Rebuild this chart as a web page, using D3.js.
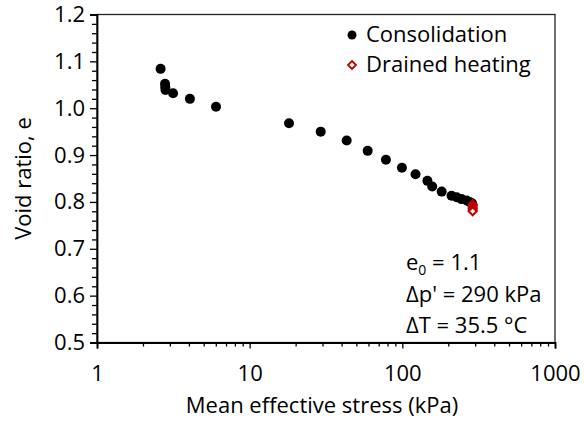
<!DOCTYPE html>
<html><head><meta charset="utf-8">
<script src="https://cdn.jsdelivr.net/npm/d3@7"></script>
<style>body{margin:0;background:#fff}svg{display:block}text{font-family:"Open Sans",Lato,sans-serif;fill:#000}</style>
</head><body><svg id="c" width="584" height="421"></svg>
<script>
const consP = [2.61,2.79,2.80,2.81,3.15,4.06,6.02,18.1,29.2,43.2,59.3,78.1,99.4,122,146,157,181,210,227,244,264,276,286];
const consE = [1.084,1.052,1.045,1.039,1.032,1.020,1.003,0.968,0.950,0.931,0.909,0.890,0.873,0.859,0.845,0.833,0.822,0.813,0.810,0.806,0.803,0.800,0.797];
const heatP = [289,289,289,289,289,289];
const heatE = [0.795,0.792,0.789,0.786,0.783,0.780];
const yTicks = [0.5,0.6,0.7,0.8,0.9,1.0,1.1,1.2];
const xTicks = [1,10,100,1000];
const legendLabels = ["Consolidation","Drained heating"];
const notes = ["= 1.1","Δp' = 290 kPa","ΔT = 35.5 °C"];

const svg = d3.select("#c");
const L=97,R=555,T=14.5,B=342.5;
const x = d3.scaleLog().domain([1,1000]).range([L,R]);
const y = d3.scaleLinear().domain([0.5,1.2]).range([B,T]);
const fs = 22;
const FF = "'Open Sans'";

// minor ticks
const yMinor = d3.range(0.5,1.2001,0.02).filter(v=>Math.abs(Math.round(v*10)-v*10)>1e-6);
svg.append("g").attr("transform",`translate(${L},0)`)
  .call(d3.axisLeft(y).tickValues(yMinor).tickSize(5).tickFormat(""))
  .call(g=>{g.select(".domain").remove();g.selectAll("line").attr("stroke","#000").attr("stroke-width",1.3);});
const xMinor=[];[1,10,100].forEach(d=>{for(let k=2;k<=9;k++)xMinor.push(d*k);});
svg.append("g").attr("transform",`translate(0,${B})`)
  .call(d3.axisBottom(x).tickValues(xMinor).tickSize(4).tickFormat(""))
  .call(g=>{g.select(".domain").remove();g.selectAll("line").attr("stroke","#000").attr("stroke-width",1.3);});

// frame top/right
svg.append("rect").attr("x",L).attr("y",T).attr("width",R-L).attr("height",B-T)
  .attr("fill","none").attr("stroke","#222").attr("stroke-width",1.3);

const ya = svg.append("g").attr("transform",`translate(${L},0)`)
  .call(d3.axisLeft(y).tickValues(yTicks).tickSize(7).tickPadding(5).tickFormat(d3.format(".1f")));
ya.select(".domain").attr("stroke","#000").attr("stroke-width",1.8);
ya.selectAll("line").attr("stroke","#000").attr("stroke-width",1.3);
ya.selectAll("text").style("font-size",fs+"px").style("font-family",FF);

const xa = svg.append("g").attr("transform",`translate(0,${B})`)
  .call(d3.axisBottom(x).tickValues(xTicks).tickSize(6).tickPadding(17).tickFormat(d3.format("d")));
xa.select(".domain").attr("stroke","#000").attr("stroke-width",1.8);
xa.selectAll("line").attr("stroke","#000").attr("stroke-width",1.3);
xa.selectAll("text").style("font-size",fs+"px").style("font-family",FF);

svg.append("text").attr("x",322).attr("y",413).attr("text-anchor","middle").style("font-size",fs+"px").text("Mean effective stress (kPa)");
svg.append("text").attr("transform",`translate(31,${(T+B)/2}) rotate(-90)`).attr("text-anchor","middle").style("font-size",fs+"px").text("Void ratio, e");

// data
svg.append("g").selectAll("circle").data(consP.map((p,i)=>[p,consE[i]])).join("circle")
  .attr("cx",d=>x(d[0])).attr("cy",d=>y(d[1])).attr("r",5).attr("fill","#000");
const dia = "M0,-4L4,0L0,4L-4,0Z";
svg.append("g").selectAll("path").data(heatP.map((p,i)=>[p,heatE[i]])).join("path")
  .attr("d",dia).attr("transform",d=>`translate(${x(d[0])},${y(d[1])})`)
  .attr("fill","#fff").attr("stroke","#C00000").attr("stroke-width",2);

// legend
svg.append("circle").attr("cx",352).attr("cy",35).attr("r",4.5).attr("fill","#000");
svg.append("path").attr("d",dia).attr("transform","translate(352,65)").attr("fill","#fff").attr("stroke","#C00000").attr("stroke-width",1.8);
svg.append("text").attr("x",366).attr("y",42).style("font-size",fs+"px").text(legendLabels[0]);
svg.append("text").attr("x",366).attr("y",72).style("font-size",fs+"px").text(legendLabels[1]);

// notes
const n0 = svg.append("text").attr("x",406).attr("y",270).style("font-size",fs+"px");
n0.append("tspan").text("e");
n0.append("tspan").attr("dy",5).style("font-size","14px").text("0");
n0.append("tspan").attr("dy",-5).text(" "+notes[0]);
svg.append("text").attr("x",406).attr("y",301.5).style("font-size",fs+"px").text(notes[1]);
svg.append("text").attr("x",406).attr("y",333).style("font-size",fs+"px").text(notes[2]);
</script></body></html>
